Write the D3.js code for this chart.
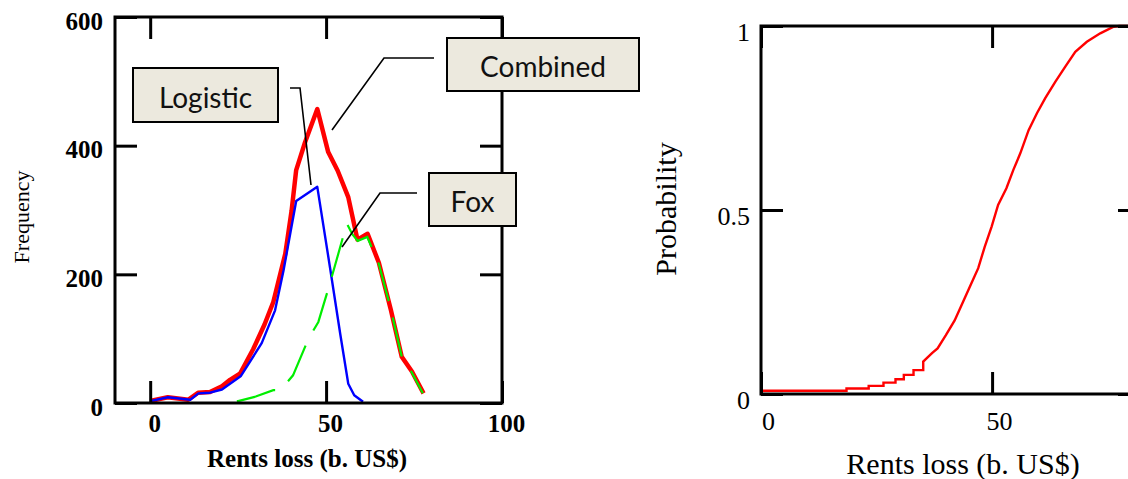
<!DOCTYPE html>
<html>
<head>
<meta charset="utf-8">
<script src="https://cdn.jsdelivr.net/npm/d3@7"></script>
<style>
  body { margin: 0; background: #fff; }
  svg { display: block; }
</style>
</head>
<body>
<svg id="chart" width="1128" height="479"></svg>
<script>
// ---- data ----
// frequency histograms (rents loss in b. US$)
const combinedX = [0, 5, 10.8, 13.6, 17, 20.4, 22.7, 25.6, 29.3, 32.5, 35, 38.4, 40.2, 41.5, 44, 47.5, 50.6, 53.3, 56.3, 58.9, 61.8, 65, 68.4, 71.5, 74.4, 77.7];
const combinedY = [3, 9, 5, 16, 17, 26, 36, 46, 84, 122, 157, 232, 299, 362, 405, 457, 390, 361, 320, 254, 263, 218, 145, 72, 49, 15];

const logisticX = [0, 5.1, 11.4, 13.7, 17, 20.4, 25.8, 31.7, 35.5, 37.9, 39.8, 41.5, 47.5, 51.1, 54, 56.3, 58, 60.5];
const logisticY = [3, 9, 5, 15, 16, 21, 42, 93, 144, 206, 263, 314, 336, 211, 108, 30, 12, 2];

const foxX = [15, 19.9, 25, 30, 35, 37, 40.6, 45, 47.8, 51.1, 55.9, 57.5, 59, 61.7, 65, 68.2, 71.5, 74.4, 77.5];
const foxY = [0, 0, 3, 10, 20, 20, 43, 100, 126, 186, 279, 262, 252, 258, 216, 150, 72, 47, 15];

// cumulative probability of the combined distribution
const cdfX = [0, 18.5, 18.5, 23.3, 23.3, 26.5, 26.5, 29.1, 29.1, 30.9, 30.9, 33, 33, 35.1, 35.1, 37, 38.2, 40, 41.9, 43.7, 45.5, 47, 48.4, 49.9, 51.3, 53.1, 54.6, 56.1, 57.9, 59.7, 61.5, 63.7, 65.8, 68, 70.5, 73.4, 76.3, 77.5, 82];
const cdfY = [0.009, 0.009, 0.015, 0.015, 0.022, 0.022, 0.031, 0.031, 0.04, 0.04, 0.052, 0.052, 0.065, 0.065, 0.088, 0.111, 0.124, 0.16, 0.2, 0.25, 0.3, 0.342, 0.4, 0.455, 0.514, 0.559, 0.609, 0.654, 0.717, 0.763, 0.804, 0.849, 0.889, 0.93, 0.957, 0.98, 0.998, 1, 1];

const freqTicks = [0, 200, 400, 600];
const lossTicksLeft = [0, 50, 100];
const probTicks = [0, 0.5, 1];
const lossTicksRight = [0, 50];

const labels = ["Logistic", "Combined", "Fox"];

// ---- setup ----
const svg = d3.select("#chart");
const serif = "'Liberation Serif', 'Times New Roman', serif";
const zip = (xs, ys) => xs.map((x, i) => [x, ys[i]]);

// left panel scales
const x1 = d3.scaleLinear().domain([-10, 100]).range([115, 502]);
const y1 = d3.scaleLinear().domain([0, 600]).range([403, 17]);
// right panel scales (frame runs past the window edge)
const x2 = d3.scaleLinear().domain([0, 82]).range([761, 1140]);
const y2 = d3.scaleLinear().domain([0, 1]).range([394, 26]);

// draws frame + inward ticks on all four sides, labels on bottom/left
function drawFrame(x, y, xt, yt, opt) {
  const [xa, xb] = x.range();
  const [yb, ya] = y.range();
  const g = svg.append("g");

  const axes = [
    { ax: d3.axisBottom(x).tickValues(xt), t: `translate(0,${yb})`, lab: true, dir: "x" },
    { ax: d3.axisTop(x).tickValues(xt), t: `translate(0,${ya})`, lab: false },
    { ax: d3.axisLeft(y).tickValues(yt), t: `translate(${xa},0)`, lab: true, dir: "y" },
    { ax: d3.axisRight(y).tickValues(yt), t: `translate(${xb},0)`, lab: false },
  ];

  axes.forEach((a) => {
    const ag = g.append("g").attr("transform", a.t)
      .call(a.ax.tickSize(-22).tickFormat(a.lab ? opt.fmt : ""));
    ag.select(".domain").remove();
    ag.selectAll(".tick line").attr("stroke", "#000").attr("stroke-width", 3);
    if (!a.lab) return;
    const txt = ag.selectAll(".tick text")
      .attr("font-family", serif)
      .attr("font-size", opt.size)
      .attr("font-weight", opt.weight)
      .attr("fill", "#000")
      .attr("dy", null);
    if (a.dir === "x") txt.attr("y", opt.xLabY).attr("x", opt.xLabDx).attr("text-anchor", "middle");
    else txt.attr("x", opt.yLabX).attr("y", opt.yLabDy).attr("text-anchor", "end");
  });

  g.append("rect")
    .attr("x", xa).attr("y", ya)
    .attr("width", xb - xa).attr("height", yb - ya)
    .attr("fill", "none").attr("stroke", "#000").attr("stroke-width", 3);
}

const line1 = d3.line().x((d) => x1(d[0])).y((d) => y1(d[1]));
const line2 = d3.line().x((d) => x2(d[0])).y((d) => y2(d[1]));

// ---- left: frequency ----
svg.append("path").datum(zip(combinedX, combinedY))
  .attr("d", line1).attr("fill", "none").attr("stroke", "#ff0000")
  .attr("stroke-width", 4.5).attr("stroke-linejoin", "round");
svg.append("path").datum(zip(logisticX, logisticY))
  .attr("d", line1).attr("fill", "none").attr("stroke", "#0000ff")
  .attr("stroke-width", 2.4).attr("stroke-linejoin", "round");
svg.append("path").datum(zip(foxX, foxY))
  .attr("d", line1).attr("fill", "none").attr("stroke", "#00ee00")
  .attr("stroke-width", 2.2).attr("stroke-dasharray", "40 17").attr("stroke-dashoffset", 23);

drawFrame(x1, y1, lossTicksLeft, freqTicks, {
  fmt: d3.format("d"), size: 25, weight: "bold",
  xLabY: 29, xLabDx: 4, yLabX: -12, yLabDy: 12,
});

svg.append("text")
  .attr("x", 307).attr("y", 467).attr("text-anchor", "middle")
  .attr("font-family", serif).attr("font-size", 25).attr("font-weight", "bold")
  .text("Rents loss (b. US$)");
svg.append("text")
  .attr("transform", "translate(29,217) rotate(-90)").attr("text-anchor", "middle")
  .attr("font-family", serif).attr("font-size", 22)
  .text("Frequency");

// callout boxes and leader lines
const callouts = [
  { box: [133, 68, 278, 122], leader: [[290, 88], [300, 88], [311, 185]] },
  { box: [447, 38, 639, 91], leader: [[434, 58], [384, 58], [332, 130]] },
  { box: [429, 173, 516, 226], leader: [[417, 193], [380, 193], [342, 247]] },
];
callouts.forEach((c, i) => {
  const [bx0, by0, bx1, by1] = c.box;
  svg.append("path").attr("d", d3.line()(c.leader))
    .attr("fill", "none").attr("stroke", "#000").attr("stroke-width", 1.6);
  svg.append("rect")
    .attr("x", bx0).attr("y", by0).attr("width", bx1 - bx0).attr("height", by1 - by0)
    .attr("fill", "#ece9de").attr("stroke", "#000").attr("stroke-width", 2);
  svg.append("text")
    .attr("x", (bx0 + bx1) / 2).attr("y", (by0 + by1) / 2 + 1.5)
    .attr("text-anchor", "middle").attr("dominant-baseline", "central")
    .attr("font-family", "Lato, 'Open Sans', sans-serif").attr("font-size", 28)
    .attr("fill", "#111")
    .text(labels[i]);
});

// ---- right: cumulative probability ----
svg.append("path").datum(zip(cdfX, cdfY))
  .attr("d", line2).attr("fill", "none").attr("stroke", "#ff0000")
  .attr("stroke-width", 2.4);

drawFrame(x2, y2, lossTicksRight, probTicks, {
  fmt: (d) => String(d), size: 26, weight: "normal",
  xLabY: 36, xLabDx: 7, yLabX: -11, yLabDy: 14,
});

svg.append("text")
  .attr("x", 963).attr("y", 474).attr("text-anchor", "middle")
  .attr("font-family", serif).attr("font-size", 30)
  .text("Rents loss (b. US$)");
svg.append("text")
  .attr("transform", "translate(676,209) rotate(-90)").attr("text-anchor", "middle")
  .attr("font-family", serif).attr("font-size", 30)
  .text("Probability");
</script>
</body>
</html>
